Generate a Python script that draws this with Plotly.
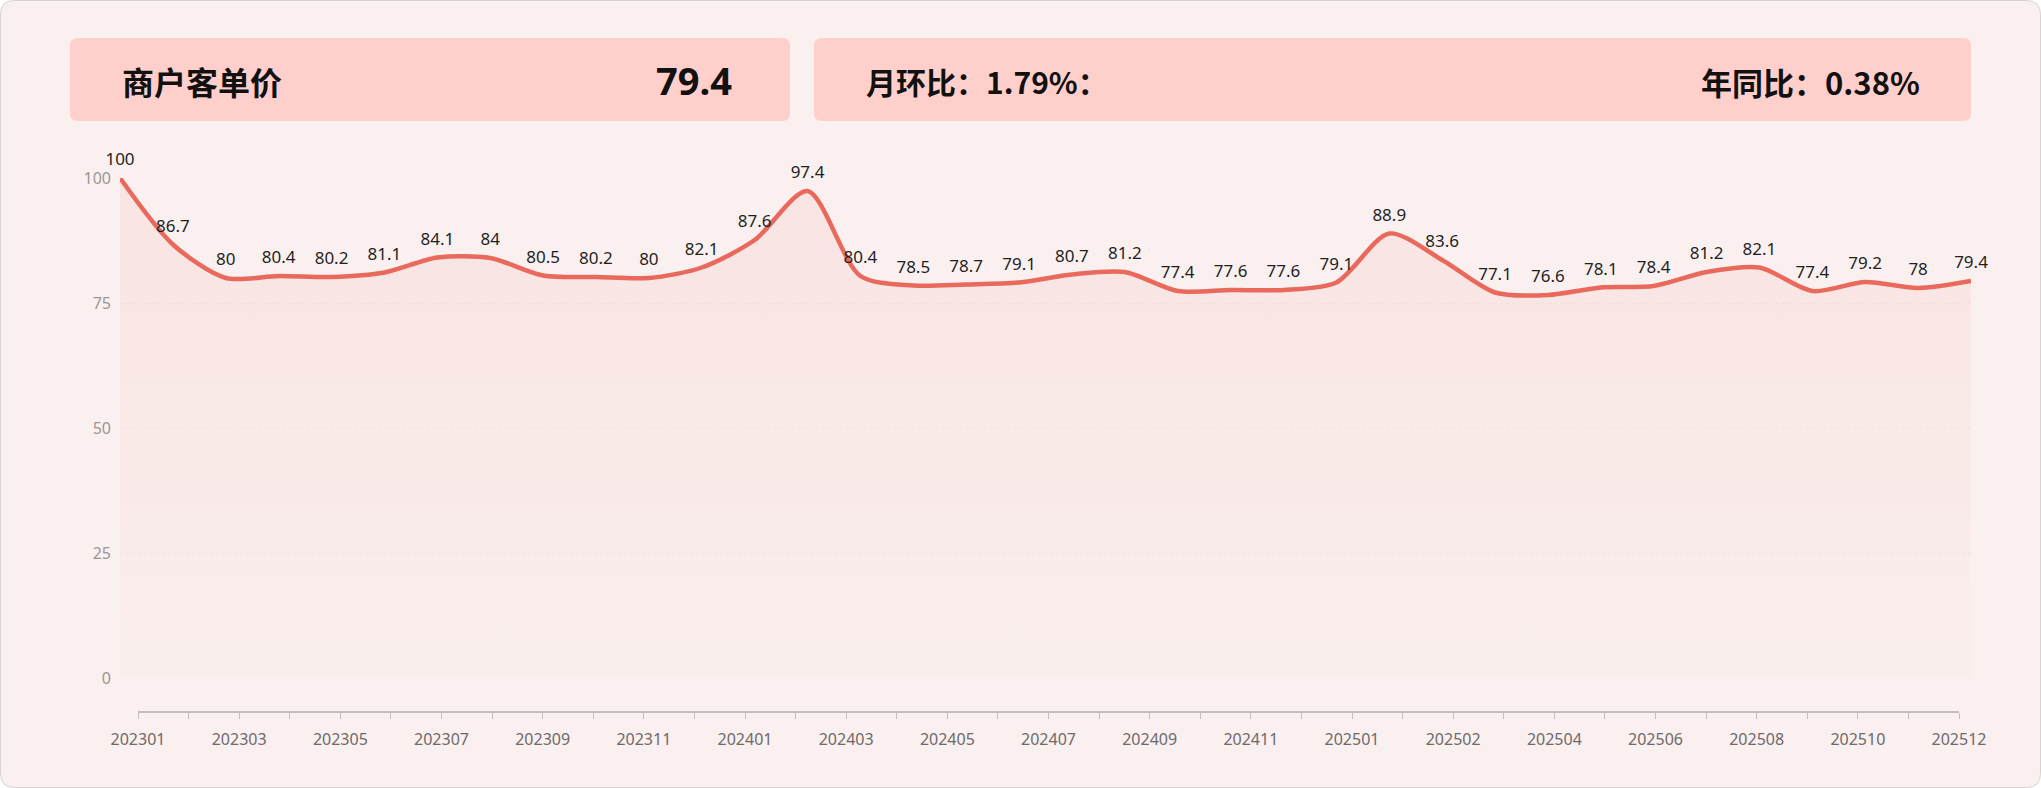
import plotly.graph_objects as go

W, H = 2041, 788

# ---------------- data ----------------
months = ["202301", "202302", "202303", "202304", "202305", "202306",
          "202307", "202308", "202309", "202310", "202311", "202312",
          "202401", "202402", "202403", "202404", "202405", "202406",
          "202407", "202408", "202409", "202410", "202411", "202412",
          "202501", "202502", "202503", "202504", "202505", "202506",
          "202507", "202508", "202509", "202510", "202511", "202512"]
values = [100, 86.7, 80, 80.4, 80.2, 81.1, 84.1, 84, 80.5, 80.2, 80, 82.1,
          87.6, 97.4, 80.4, 78.5, 78.7, 79.1, 80.7, 81.2, 77.4, 77.6, 77.6, 79.1,
          88.9, 83.6, 77.1, 76.6, 78.1, 78.4, 81.2, 82.1, 77.4, 79.2, 78, 79.4]
axis_labels = ["202301", "202303", "202305", "202307", "202309", "202311",
               "202401", "202403", "202405", "202407", "202409", "202411",
               "202501", "202502", "202504", "202506", "202508", "202510", "202512"]
y_ticks = [0, 25, 50, 75, 100]

card_title = "商户客单价"
card_value = "79.4"
mom_text = "月环比：1.79%："
yoy_text = "年同比：0.38%"

# ---------------- helpers ----------------
def px(x):
    return x / W

def py(y):
    return 1 - y / H

def rrect(x0, y0, x1, y1, r):
    rx, ry = r / W, r / H
    X0, X1 = px(x0), px(x1)
    Y0, Y1 = py(y0), py(y1)  # Y0 top, Y1 bottom
    return (f"M{X0+rx},{Y0} L{X1-rx},{Y0} Q{X1},{Y0} {X1},{Y0-ry} "
            f"L{X1},{Y1+ry} Q{X1},{Y1} {X1-rx},{Y1} L{X0+rx},{Y1} "
            f"Q{X0},{Y1} {X0},{Y1+ry} L{X0},{Y0-ry} Q{X0},{Y0} {X0+rx},{Y0} Z")

# slots on the label axis: label at every other slot
n_slots = 2 * (len(axis_labels) - 1) + 1
slot_text = []
for i in range(n_slots):
    slot_text.append(axis_labels[i // 2] if i % 2 == 0 else "")

LINE = "#E9695C"
NUMFONT = "Noto Sans, Roboto, sans-serif"
CJK = "Noto Sans CJK SC, Noto Sans, sans-serif"

fig = go.Figure()

fig.add_trace(go.Scatter(
    x=months, y=values,
    mode="lines+markers+text",
    line=dict(color=LINE, width=4.5, shape="spline", smoothing=0.8),
    marker=dict(size=12, color="rgba(0,0,0,0)"),
    text=[f"{v:g}" for v in values],
    textposition="top center",
    textfont=dict(family=NUMFONT, size=17, color="#1f1f1f"),
    fill="tozeroy",
    fillgradient=dict(type="vertical", start=0, stop=100,
                      colorscale=[[0, "rgba(240,150,140,0.02)"],
                                  [1, "rgba(240,150,140,0.13)"]]),
    cliponaxis=False,
    hoverinfo="x+y",
    xaxis="x", yaxis="y",
))

# invisible trace to drive the label axis
fig.add_trace(go.Scatter(
    x=[0, n_slots - 1], y=[0, 0], mode="lines",
    line=dict(width=0, color="rgba(0,0,0,0)"),
    hoverinfo="skip", showlegend=False,
    xaxis="x2", yaxis="y2",
))

shapes = [
    dict(type="path", xref="paper", yref="paper", layer="below",
         path=rrect(0.5, 0.5, W - 0.5, H - 0.5, 14),
         fillcolor="#FAF0EF", line=dict(color="#D8D2D2", width=1)),
    dict(type="path", xref="paper", yref="paper", layer="below",
         path=rrect(70, 38, 790, 121, 8),
         fillcolor="#FFCFCC", line=dict(width=0)),
    dict(type="path", xref="paper", yref="paper", layer="below",
         path=rrect(814, 38, 1971, 121, 8),
         fillcolor="#FFCFCC", line=dict(width=0)),
]

annotations = [
    dict(xref="paper", yref="paper", x=px(120), y=py(81), xanchor="left", yanchor="middle",
         text=card_title, showarrow=False,
         font=dict(family=CJK, size=32, color="#111111", weight="bold")),
    dict(xref="paper", yref="paper", x=px(734), y=py(80), xanchor="right", yanchor="middle",
         text=card_value, showarrow=False,
         font=dict(family="Noto Sans, sans-serif", size=38,
                   color="#111111", weight="bold")),
    dict(xref="paper", yref="paper", x=px(864), y=py(81), xanchor="left", yanchor="middle",
         text=mom_text, showarrow=False,
         font=dict(family=CJK, size=30, color="#111111", weight="bold")),
    dict(xref="paper", yref="paper", x=px(1922), y=py(81), xanchor="right", yanchor="middle",
         text=yoy_text, showarrow=False,
         font=dict(family=CJK, size=31, color="#111111", weight="bold")),
]

fig.update_layout(
    template="none",
    width=W, height=H, autosize=False,
    margin=dict(l=0, r=0, t=0, b=0, pad=0, autoexpand=False),
    paper_bgcolor="#FFFFFF",
    plot_bgcolor="rgba(0,0,0,0)",
    showlegend=False,
    shapes=shapes,
    annotations=annotations,
    xaxis=dict(domain=[px(120), px(1971)], range=[0, len(months) - 1],
               type="category", visible=False, showgrid=False, zeroline=False,
               automargin=False),
    yaxis=dict(domain=[py(678), py(178)], range=[0, 100], anchor="x",
               tickvals=y_ticks, ticks="", showline=False, zeroline=False,
               showgrid=True, gridcolor="rgba(0,0,0,0.035)", griddash="dot", gridwidth=1,
               tickfont=dict(family=NUMFONT, size=16, color="#9A9696"),
               ticklabelstandoff=8, automargin=False),
    xaxis2=dict(domain=[px(138), px(1959)], range=[0, n_slots - 1], anchor="y2",
                tickmode="array", tickvals=list(range(n_slots)), ticktext=slot_text,
                ticks="outside", ticklen=6, tickcolor="#C4BFBF", tickwidth=1.3,
                showline=True, linecolor="#C4BFBF", linewidth=1.5,
                showgrid=False, zeroline=False, automargin=False,
                tickfont=dict(family=NUMFONT, size=16, color="#6E6A6A"),
                ticklabelstandoff=7),
    yaxis2=dict(domain=[py(711), py(700)], range=[0, 1], anchor="x2", visible=False,
                showgrid=False, zeroline=False, automargin=False),
)

fig.write_html("out.html")
